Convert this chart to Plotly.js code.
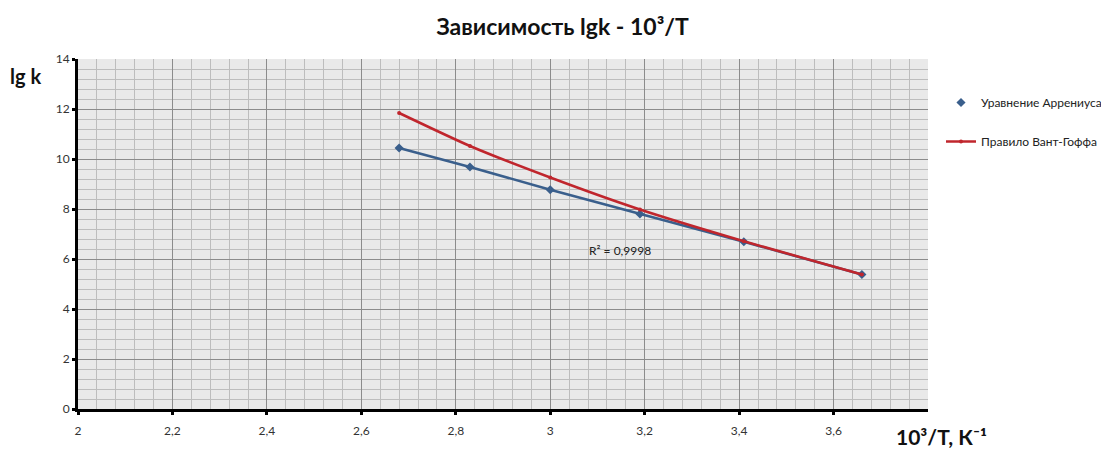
<!DOCTYPE html>
<html><head><meta charset="utf-8">
<script src="https://cdn.plot.ly/plotly-3.0.1.min.js"></script>
<style>body{margin:0;background:#fff}#chart{width:1101px;height:450px}</style>
</head><body><div id="chart"></div>
<script>
const xInvT = [2.68, 2.83, 3.0, 3.19, 3.41, 3.66];
const lgkArrhenius = [10.44, 9.68, 8.77, 7.8, 6.69, 5.38];
const lgkVantHoff = [11.84, 10.52, 9.26, 7.98, 6.71, 5.38];
const seriesNames = ["Уравнение Аррениуса", "Правило Вант-Гоффа"];
const xTickVals = [2, 2.2, 2.4, 2.6, 2.8, 3, 3.2, 3.4, 3.6];
const xTickText = ["2", "2,2", "2,4", "2,6", "2,8", "3", "3,2", "3,4", "3,6"];
const r2Text = "R² = 0,9998";

const FONT = "Lato, 'Open Sans', sans-serif";
const traces = [
  {x: xInvT, y: lgkArrhenius, mode: "lines", line: {color: "#3a5f8c", width: 2.5},
   showlegend: false, hoverinfo: "skip", legendgroup: "a"},
  {x: xInvT, y: lgkArrhenius, mode: "markers", name: seriesNames[0], legendgroup: "a",
   marker: {symbol: "diamond", size: 7, color: "#3a5f8c"}},
  {x: xInvT, y: lgkVantHoff, mode: "lines+markers", name: seriesNames[1], legendgroup: "b",
   line: {color: "#c0262d", width: 2.5, shape: "spline", smoothing: 0.6},
   marker: {symbol: "circle", size: 4, color: "#c0262d"}}
];
const pw = 1101 - 78 - 173, ph = 450 - 59 - 41;
const layout = {
  width: 1101, height: 450,
  margin: {l: 78, r: 173, t: 59, b: 41, autoexpand: false},
  paper_bgcolor: "#ffffff", plot_bgcolor: "#e9e9e9",
  separators: ", ",
  font: {family: FONT, size: 12, color: "#333"},
  title: {text: "<b>Зависимость lgk - 10³/T</b>", x: 0.511, xanchor: "center", y: 0.94, yanchor: "middle",
          font: {family: FONT, size: 23, color: "#111"}},
  xaxis: {range: [2, 3.8], tickvals: xTickVals, ticktext: xTickText, showline: true, linecolor: "#000", linewidth: 3,
          gridcolor: "#8c8c8c", gridwidth: 1, zeroline: false, ticks: "outside", ticklen: 3, tickwidth: 3,
          tickcolor: "#000", tickfont: {size: 12, color: "#333"}, ticklabelstandoff: 6,
          minor: {dtick: 0.04, tick0: 2, showgrid: true, gridcolor: "#bdbdbd", gridwidth: 1, ticks: ""},
          fixedrange: true},
  yaxis: {range: [0, 14], dtick: 2, tick0: 0, showline: true, linecolor: "#000", linewidth: 3,
          gridcolor: "#8c8c8c", gridwidth: 1, zeroline: false, ticks: "outside", ticklen: 3, tickwidth: 3,
          tickcolor: "#000", tickfont: {size: 12, color: "#333"},
          minor: {dtick: 0.4, tick0: 0, showgrid: true, gridcolor: "#bdbdbd", gridwidth: 1, ticks: ""},
          fixedrange: true},
  legend: {x: (941 - 78) / pw, y: (450 - 41 - 88) / ph, xanchor: "left", yanchor: "top", bgcolor: "rgba(0,0,0,0)",
           font: {size: 12, color: "#222"}, tracegroupgap: 20},
  annotations: [
    {x: 3.147, y: 6.35, xref: "x", yref: "y", text: r2Text, showarrow: false,
     font: {size: 12, color: "#222"}},
    {x: (25 - 78) / pw, y: (450 - 41 - 76) / ph, xref: "paper", yref: "paper", xanchor: "center", yanchor: "middle",
     text: "<b>lg k</b>", showarrow: false, font: {size: 20, color: "#111"}},
    {x: (941 - 78) / pw, y: (450 - 41 - 436) / ph, xref: "paper", yref: "paper", xanchor: "center", yanchor: "middle",
     text: "<b>10³/T, К⁻¹</b>", showarrow: false, font: {size: 21, color: "#111"}}
  ],
  showlegend: true
};
Plotly.newPlot("chart", traces, layout, {displayModeBar: false, staticPlot: true});
</script></body></html>
